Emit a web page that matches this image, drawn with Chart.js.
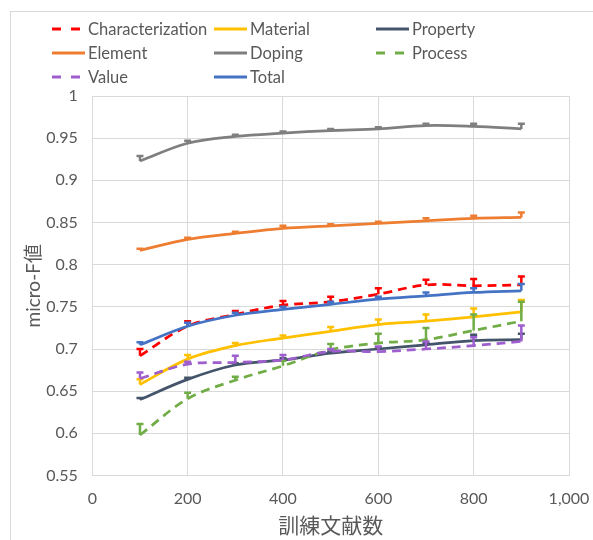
<!DOCTYPE html>
<html>
<head>
<meta charset="utf-8">
<script src="https://cdn.jsdelivr.net/npm/chart.js@4/dist/chart.umd.min.js"></script>
<style>
  html, body { margin: 0; padding: 0; background: #fff; }
  #wrap { position: relative; width: 593px; height: 540px; overflow: hidden; }
  #frame { position: absolute; left: 10px; top: 11px; width: 700px; height: 700px; border: 1px solid #d9d9d9; }
  #chart { position: absolute; left: 0; top: 0; }
  #legend { position: absolute; left: 0; top: 0; width: 593px; height: 90px;
    font-family: Lato, "Noto Sans CJK JP", sans-serif; font-size: 16.5px; color: #595959; }
  .item { position: absolute; height: 20px; display: flex; align-items: center; white-space: nowrap; }
  .item svg { margin-right: 3px; }
</style>
</head>
<body>
<div id="wrap">
  <div id="frame"></div>
  <canvas id="chart" width="593" height="540"></canvas>
  <div id="legend"></div>
</div>
<script>
const docCounts = [100, 200, 300, 400, 500, 600, 700, 800, 900];

const seriesNames = ['Characterization', 'Material', 'Property', 'Element', 'Doping', 'Process', 'Value', 'Total'];
const seriesColors = ['#FF0000', '#FFC000', '#44546A', '#ED7D31', '#7F7F7F', '#70AD47', '#9E5ECE', '#4472C4'];
const seriesDashed = [true, false, false, false, false, true, true, false];

const characterization = [0.692, 0.727, 0.741, 0.752, 0.756, 0.765, 0.776, 0.775, 0.776];
const material = [0.658, 0.688, 0.704, 0.713, 0.721, 0.729, 0.733, 0.738, 0.744];
const property = [0.640, 0.664, 0.681, 0.687, 0.695, 0.700, 0.705, 0.710, 0.711];
const element = [0.817, 0.830, 0.837, 0.843, 0.846, 0.849, 0.852, 0.855, 0.856];
const doping = [0.923, 0.944, 0.952, 0.956, 0.959, 0.961, 0.965, 0.964, 0.961];
const process = [0.598, 0.641, 0.663, 0.680, 0.699, 0.707, 0.711, 0.722, 0.733];
const value = [0.665, 0.682, 0.684, 0.687, 0.697, 0.697, 0.700, 0.704, 0.709];
const total = [0.705, 0.727, 0.740, 0.747, 0.753, 0.759, 0.763, 0.767, 0.769];

// upper error bar lengths
const characterizationErr = [0.008, 0.006, 0.004, 0.005, 0.006, 0.007, 0.006, 0.008, 0.010];
const materialErr = [0.006, 0.005, 0.003, 0.003, 0.005, 0.006, 0.008, 0.010, 0.014];
const propertyErr = [0.002, 0.002, 0.002, 0.002, 0.002, 0.002, 0.002, 0.007, 0.007];
const elementErr = [0.002, 0.002, 0.002, 0.003, 0.002, 0.002, 0.003, 0.003, 0.006];
const dopingErr = [0.006, 0.003, 0.002, 0.002, 0.002, 0.002, 0.002, 0.003, 0.006];
const processErr = [0.013, 0.007, 0.004, 0.006, 0.007, 0.011, 0.014, 0.019, 0.023];
const valueErr = [0.007, 0.003, 0.008, 0.006, 0.003, 0.006, 0.009, 0.010, 0.019];
const totalErr = [0.003, 0.004, 0.003, 0.003, 0.003, 0.003, 0.004, 0.005, 0.008];

const xTicks = [0, 200, 400, 600, 800, 1000];
const yTicks = [0.55, 0.6, 0.65, 0.7, 0.75, 0.8, 0.85, 0.9, 0.95, 1];

const allValues = [characterization, material, property, element, doping, process, value, total];
const allErrs = [characterizationErr, materialErr, propertyErr, elementErr, dopingErr, processErr, valueErr, totalErr];

const GRID = '#d9d9d9';
const TXT = '#595959';

const datasets = seriesNames.map((name, i) => ({
  label: name,
  data: docCounts.map((d, j) => ({ x: d, y: allValues[i][j] })),
  borderColor: seriesColors[i],
  backgroundColor: seriesColors[i],
  borderWidth: 2.75,
  borderDash: seriesDashed[i] ? [9, 6] : [],
  pointRadius: 0,
  tension: 0.35,
  fill: false,
  order: seriesNames.length - i
}));

// error bars drawn right after each line
const errorBars = {
  id: 'errorBars',
  afterDatasetDraw(chart, args) {
    const i = args.index;
    const errs = allErrs[i];
    const { ctx, scales } = chart;
    ctx.save();
    ctx.strokeStyle = seriesColors[i];
    ctx.lineWidth = 2.5;
    ctx.setLineDash([]);
    docCounts.forEach((d, j) => {
      const px = scales.x.getPixelForValue(d);
      const y0 = scales.y.getPixelForValue(allValues[i][j]);
      const y1 = scales.y.getPixelForValue(allValues[i][j] + errs[j]);
      ctx.beginPath();
      ctx.moveTo(px, y0);
      ctx.lineTo(px, y1);
      ctx.moveTo(px - 3.5, y1);
      ctx.lineTo(px + 3.5, y1);
      ctx.stroke();
    });
    ctx.restore();
  }
};

new Chart(document.getElementById('chart').getContext('2d'), {
  type: 'line',
  data: { datasets: datasets },
  plugins: [errorBars],
  options: {
    responsive: false,
    animation: false,
    layout: { padding: { left: 0, top: 96, right: 24, bottom: 0 } },
    plugins: { legend: { display: false }, tooltip: { enabled: false } },
    scales: {
      x: {
        type: 'linear',
        min: 0, max: 1000,
        afterBuildTicks: s => { s.ticks = xTicks.map(v => ({ value: v })); },
        afterFit: s => { s.height = 64.5; s.paddingLeft = 0; s.paddingRight = 0; },
        grid: { color: GRID, drawTicks: false },
        border: { color: GRID },
        ticks: {
          padding: 14,
          color: TXT,
          font: { family: 'Lato', size: 16 },
          callback: v => v.toLocaleString('en-US')
        },
        title: {
          display: true,
          text: '訓練文献数',
          color: TXT,
          font: { family: '"Noto Sans CJK JP"', size: 21 },
          padding: { top: 0, bottom: 2.5 }
        }
      },
      y: {
        min: 0.55, max: 1,
        afterBuildTicks: s => { s.ticks = yTicks.map(v => ({ value: v })); },
        afterFit: s => { s.width = 92.3; s.paddingTop = 0; s.paddingBottom = 0; },
        grid: { color: GRID, drawTicks: false },
        border: { color: GRID },
        ticks: {
          padding: 14.5,
          color: TXT,
          font: { family: 'Lato', size: 16 },
          callback: v => String(+v.toFixed(2))
        },
        title: {
          display: true,
          text: 'micro-F値',
          color: TXT,
          font: { family: 'Lato, "Noto Sans CJK JP"', size: 19 },
          padding: { top: 22.5, bottom: 0 }
        }
      }
    }
  }
});

// legend in three columns, filled row by row like the original
const legend = document.getElementById('legend');
const colLeft = [52, 214, 376];
const rowMid = [29, 53, 77];
seriesNames.forEach((name, i) => {
  const item = document.createElement('div');
  item.className = 'item';
  item.style.left = colLeft[i % 3] + 'px';
  item.style.top = (rowMid[Math.floor(i / 3)] - 10) + 'px';
  const dash = seriesDashed[i] ? 'stroke-dasharray="9 10"' : '';
  item.innerHTML = '<svg width="33" height="6"><line x1="0" y1="3" x2="33" y2="3" stroke="' +
    seriesColors[i] + '" stroke-width="3" ' + dash + '/></svg><span>' + name + '</span>';
  legend.appendChild(item);
});
</script>
</body>
</html>
